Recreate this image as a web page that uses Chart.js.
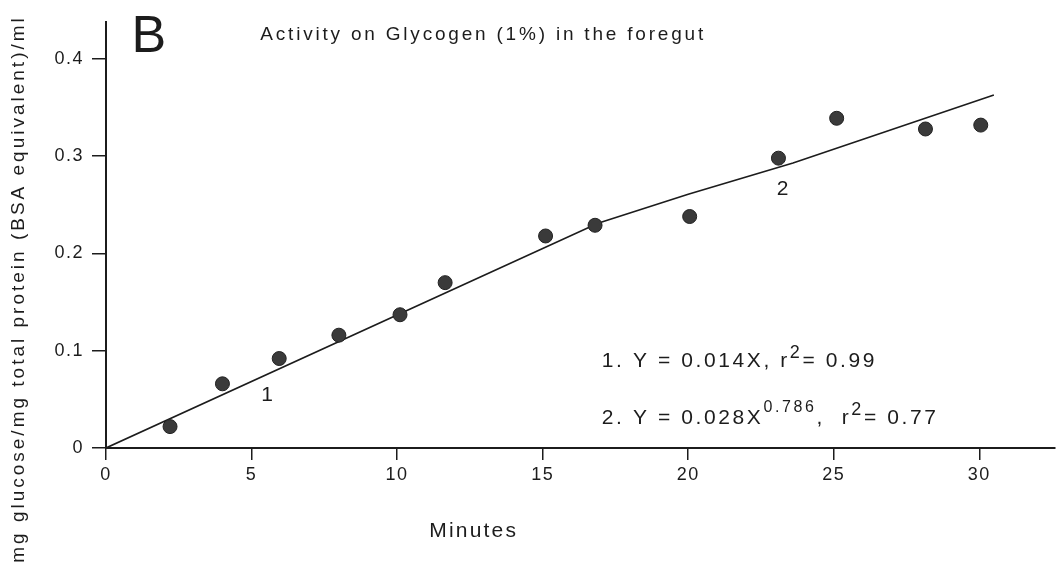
<!DOCTYPE html>
<html>
<head>
<meta charset="utf-8">
<script src="https://cdn.jsdelivr.net/npm/chart.js@4.4.1/dist/chart.umd.min.js"></script>
<style>
  html, body { margin: 0; padding: 0; background: #fff; }
  #wrap { width: 1056px; height: 568px; position: relative; }
</style>
</head>
<body>
<div id="wrap"><canvas id="glyChart"></canvas></div>
<script>
// values (minutes vs mg glucose / mg protein / ml)
const minutes  = [2.2, 4.0, 5.95, 8.0, 10.1, 11.65, 15.1, 16.8, 20.05, 23.1, 25.1, 28.15, 30.05];
const activity = [0.022, 0.066, 0.092, 0.116, 0.137, 0.170, 0.218, 0.229, 0.238, 0.298, 0.339, 0.328, 0.332];
// fitted curve as it is drawn (1 = linear part, 2 = power part)
const fitX = [0, 16.9, 20.0, 23.6, 30.5];
const fitY = [0, 0.231, 0.261, 0.293, 0.363];
const xTicks = [0, 5, 10, 15, 20, 25, 30];
const yTicks = [0, 0.1, 0.2, 0.3, 0.4];
const yTickLabels = ['0', '0.1', '0.2', '0.3', '0.4'];

const ink = '#1c1c1c';
const fam = '"Liberation Sans", Arial, Helvetica, sans-serif';

Chart.defaults.font.family = fam;
Chart.defaults.color = ink;

// draws a run of text pieces one after the other (for the superscripts)
function run(ctx, parts, x, y) {
  for (const p of parts) {
    ctx.font = p.size + 'px ' + fam;
    ctx.fillText(p.t, x, y - (p.up || 0));
    x += ctx.measureText(p.t).width;
  }
}

const figText = {
  id: 'figText',
  beforeDraw(chart) {
    chart.ctx.letterSpacing = '1.5px';
  },
  afterDraw(chart) {
    const {ctx, scales: {x, y}} = chart;
    const px = v => x.getPixelForValue(v), py = v => y.getPixelForValue(v);
    ctx.save();
    ctx.fillStyle = ink;
    ctx.textBaseline = 'alphabetic';
    ctx.textAlign = 'left';

    ctx.letterSpacing = '0px';
    ctx.font = '52px ' + fam;
    ctx.fillText('B', px(0.88), py(0.407));

    ctx.letterSpacing = '2.8px';
    ctx.font = '19px ' + fam;
    ctx.fillText('Activity on Glycogen (1%) in the foregut', px(5.3), py(0.42));

    // curve labels
    ctx.letterSpacing = '0px';
    ctx.font = '21px ' + fam;
    ctx.textAlign = 'center';
    ctx.fillText('1', px(5.53), py(0.0566) + 8);
    ctx.fillText('2', px(23.24), py(0.268) + 8);

    // equations
    ctx.textAlign = 'left';
    ctx.letterSpacing = '2.6px';
    run(ctx, [{t: '1. Y = 0.014X, r', size: 21}, {t: '2', size: 18, up: 9}, {t: '= 0.99', size: 21}], px(17.03), py(0.0833));
    run(ctx, [{t: '2. Y = 0.028X', size: 21}, {t: '0.786', size: 16, up: 12}, {t: ',  r', size: 21}, {t: '2', size: 18, up: 9}, {t: '= 0.77', size: 21}], px(17.03), py(0.0247));

    // axis titles
    ctx.letterSpacing = '2.2px';
    ctx.font = '21px ' + fam;
    ctx.textAlign = 'center';
    ctx.fillText('Minutes', px(12.63), 537);

    ctx.translate(19, 289);
    ctx.rotate(-Math.PI / 2);
    ctx.textBaseline = 'middle';
    ctx.letterSpacing = '3px';
    ctx.font = '19px ' + fam;
    ctx.fillText('mg glucose/mg total protein (BSA equivalent)/ml', 0, 0);
    ctx.restore();
  }
};

new Chart('glyChart', {
  type: 'scatter',
  data: {
    datasets: [{
      label: 'activity',
      data: minutes.map((m, i) => ({x: m, y: activity[i]})),
      pointRadius: 7,
      backgroundColor: '#3a3a3a',
      borderColor: '#222',
      borderWidth: 1
    }, {
      label: 'fit',
      data: fitX.map((m, i) => ({x: m, y: fitY[i]})),
      showLine: true,
      pointRadius: 0,
      borderColor: ink,
      borderWidth: 1.6,
      tension: 0
    }]
  },
  options: {
    responsive: true,
    maintainAspectRatio: false,
    animation: false,
    layout: {autoPadding: false, padding: {top: 22, right: 1, left: 0, bottom: 0}},
    plugins: {legend: {display: false}, tooltip: {enabled: false}},
    scales: {
      x: {
        type: 'linear', min: 0, max: 32.6,
        afterBuildTicks: s => { s.ticks = xTicks.map(v => ({value: v})); },
        afterFit: s => { s.height = 120; s.paddingLeft = 0; s.paddingRight = 0; },
        grid: {drawOnChartArea: false, drawTicks: true, tickLength: 12, color: ink, lineWidth: 1.5},
        border: {display: true, color: ink, width: 2},
        ticks: {color: ink, padding: 4, font: {size: 18}, maxRotation: 0, autoSkip: false}
      },
      y: {
        type: 'linear', min: 0, max: 0.438,
        afterBuildTicks: s => { s.ticks = yTicks.map(v => ({value: v})); },
        afterFit: s => { s.width = 106; s.paddingTop = 0; s.paddingBottom = 0; },
        grid: {drawOnChartArea: false, drawTicks: true, tickLength: 14, color: ink, lineWidth: 1.5},
        border: {display: true, color: ink, width: 2},
        ticks: {color: ink, padding: 8, font: {size: 18}, autoSkip: false,
          callback: (v, i) => yTickLabels[i]}
      }
    }
  },
  plugins: [figText]
});
</script>
</body>
</html>
